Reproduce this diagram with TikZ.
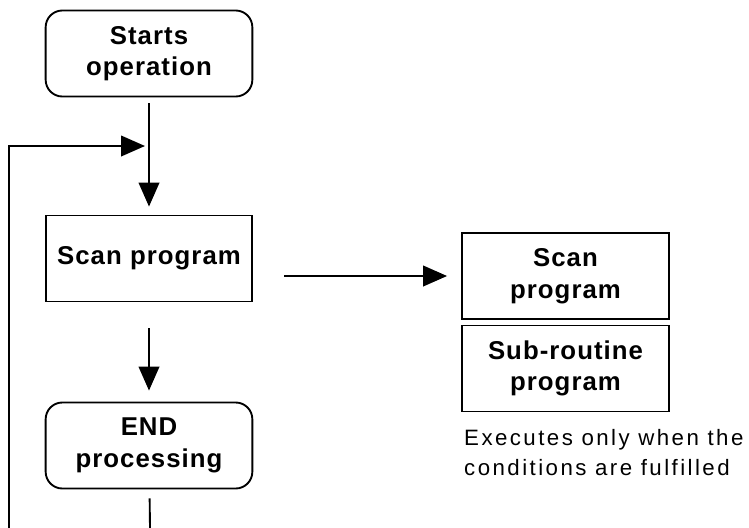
\documentclass[tikz,border=0pt]{standalone}
\usepackage{fontspec}
\setmainfont{Liberation Sans}
\usetikzlibrary{arrows.meta}

\tikzset{
  box/.style={draw, line width=1.6pt, minimum width=6.2cm, minimum height=2.58cm,
    inner sep=0pt, align=center, font=\fontsize{22}{27}\selectfont\bfseries\addfontfeatures{LetterSpace=4}},
  term/.style={box, rounded corners=0.5cm},
  flow/.style={line width=1.6pt, -{Triangle[length=0.72cm,width=0.62cm]}},
  plain/.style={line width=1.6pt}
}

\begin{document}
\begin{tikzpicture}[x=0.03cm,y=-0.03cm]
    \useasboundingbox (0,0) rectangle (749,528);
    % Main flow
    \node[term] (start) at (149,53.5) {Starts\\operation};
    \node[box] (scan) at (149,258.5) {Scan program};
    \node[term] (endp) at (149,445.5) {END\\processing};
    
    % Program area
    \node[box, minimum width=6.21cm] (scanb) at (565.5,276) {Scan\\program};
    \node[box, minimum width=6.21cm] (sub) at (565.5,368.5) {Sub-routine\\program};
    \node[anchor=north west, align=left, inner sep=0pt,
          font=\fontsize{19}{26}\selectfont\addfontfeatures{LetterSpace=11}] (note) at (464,429)
          {Executes only when the\\conditions are fulfilled};
    
    % Connectors
    \coordinate (back) at (150,146);
    \coordinate (loopbot) at (9,528);
    \coordinate (endbot) at (150,528);
    \draw[flow, shorten <=0.18cm, shorten >=0.24cm] (start) -- (scan);
    \draw[flow, shorten <=0.78cm, shorten >=0.33cm] (scan) -- (endp);
    \draw[plain, shorten <=0.27cm] (endp) -- (endbot);
    \draw[flow, shorten >=0.15cm] (loopbot) |- (back);
    \draw[flow, shorten <=0.93cm, shorten >=0.42cm] (scan.east |- scanb) -- (scanb);
\end{tikzpicture}
\end{document}
